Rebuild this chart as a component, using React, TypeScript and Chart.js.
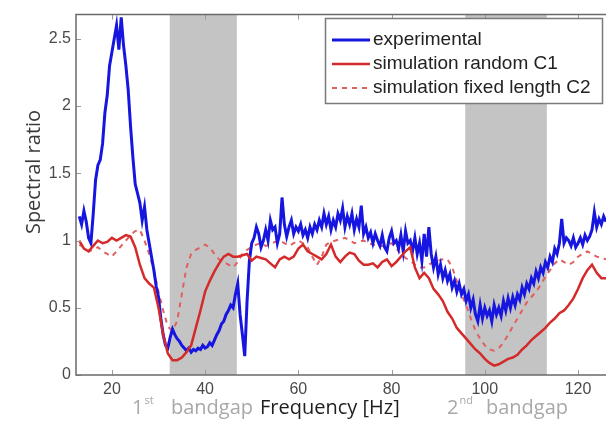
import { useEffect, useRef } from "react";
import { Chart, registerables } from "chart.js";
Chart.register(...registerables);

// ---------- data ----------
const expStartHz = 13;
const expStepHz = 0.5;
const experimental = [
  1.18, 1.12, 1.22, 1.14, 1.02, 0.98, 1.2, 1.45, 1.56, 1.6,
  1.72, 1.95, 2.08, 2.3, 2.4, 2.5, 2.6, 2.42, 2.66, 2.45,
  2.3, 2.12, 1.85, 1.62, 1.42, 1.35, 1.28, 1.15, 1.25, 1.08,
  0.98, 0.88, 0.78, 0.66, 0.58, 0.42, 0.3, 0.22, 0.2, 0.28,
  0.34, 0.3, 0.27, 0.25, 0.22, 0.2, 0.18, 0.2, 0.17, 0.19,
  0.18, 0.2, 0.19, 0.22, 0.2, 0.21, 0.24, 0.22, 0.26, 0.3,
  0.33, 0.38, 0.4, 0.45, 0.48, 0.52, 0.5, 0.6, 0.68, 0.45,
  0.3, 0.14, 0.55, 0.85, 0.98, 1.02, 1.1, 1.05, 0.95, 1.0,
  1.08, 1.0, 1.15, 1.08, 1.1, 0.98, 1.05, 1.32, 1.12, 1.03,
  1.1, 1.15, 1.05, 1.1, 1.07, 1.12, 1.04, 1.08, 1.02, 1.1,
  1.05, 1.12, 1.08, 1.15, 1.1, 1.2, 1.12, 1.18, 1.08, 1.15,
  1.1, 1.2, 1.15, 1.24, 1.1, 1.18, 1.12, 1.2, 1.08, 1.16,
  1.1, 1.26, 1.05, 1.1, 1.02, 1.06, 0.98, 1.05, 1.0, 0.96,
  1.04, 0.95, 0.92, 1.02, 1.07, 0.98, 1.0, 0.94, 1.04, 0.92,
  1.07, 0.98, 1.0, 0.92, 1.02, 0.9, 0.98, 0.85, 1.05, 0.88,
  1.1, 0.9, 0.8, 0.88, 0.75, 0.82, 0.72, 0.78, 0.7, 0.75,
  0.65, 0.7, 0.62, 0.68, 0.6, 0.64, 0.55, 0.6, 0.5, 0.56,
  0.45, 0.4, 0.52, 0.42, 0.5, 0.44, 0.48, 0.4, 0.52, 0.45,
  0.5, 0.44, 0.55, 0.48, 0.57, 0.5, 0.58, 0.52, 0.6, 0.56,
  0.65, 0.6, 0.68, 0.64, 0.72, 0.68, 0.77, 0.72, 0.8, 0.76,
  0.84, 0.8, 0.88, 0.84, 0.94, 0.9, 0.98, 1.16, 0.98, 1.02,
  1.0, 0.96, 1.02, 0.95, 0.98, 1.02, 0.97, 1.04, 1.0, 1.03,
  1.08, 1.21, 1.1, 1.16, 1.12, 1.18, 1.14,
];

const simFreq = [
  13, 14, 15, 16, 17, 18, 19, 20, 21, 22, 23, 24, 25, 26, 27, 28, 29, 30, 31, 32,
  33, 34, 35, 36, 37, 38, 39, 40, 41, 42, 43, 44, 45, 46, 47, 48, 49, 50, 51, 52,
  53, 54, 55, 56, 57, 58, 59, 60, 61, 62, 63, 64, 65, 66, 67, 68, 69, 70, 71, 72,
  73, 74, 75, 76, 77, 78, 79, 80, 81, 82, 83, 84, 85, 86, 87, 88, 89, 90, 91, 92,
  93, 94, 95, 96, 97, 98, 99, 100, 101, 102, 103, 104, 105, 106, 107, 108, 109, 110, 111, 112,
  113, 114, 115, 116, 117, 118, 119, 120, 121, 122, 123, 124, 125, 126,
];

const simRandomC1 = [
  1.0, 0.94, 0.92, 0.96, 1.0, 0.98, 0.99, 1.02, 1.0, 1.02, 1.04, 1.03, 0.95, 0.82, 0.72, 0.68, 0.65, 0.5, 0.3, 0.16,
  0.11, 0.11, 0.13, 0.17, 0.22, 0.35, 0.48, 0.62, 0.7, 0.77, 0.83, 0.88, 0.9, 0.88, 0.88, 0.89, 0.9, 0.85, 0.88, 0.87,
  0.86, 0.83, 0.8, 0.86, 0.88, 0.86, 0.88, 0.94, 0.97, 0.92, 0.9, 0.88, 0.86, 0.9, 0.97, 0.88, 0.84, 0.88, 0.91, 0.9,
  0.85, 0.82, 0.82, 0.83, 0.8, 0.84, 0.86, 0.81, 0.84, 0.88, 0.92, 0.95, 0.8, 0.72, 0.76, 0.72, 0.64, 0.6, 0.55, 0.47,
  0.42, 0.35, 0.31, 0.27, 0.23, 0.19, 0.16, 0.12, 0.09, 0.07, 0.08, 0.1, 0.12, 0.13, 0.15, 0.19, 0.22, 0.26, 0.29, 0.32,
  0.35, 0.39, 0.42, 0.46, 0.48, 0.52, 0.57, 0.64, 0.72, 0.78, 0.82, 0.76, 0.72, 0.72,
];

const simFixedC2 = [
  0.97, 0.95, 0.92, 0.93, 0.95, 0.92, 0.9, 0.88, 0.92, 0.96, 1.0, 1.04, 1.07, 1.08, 1.0, 0.9, 0.78, 0.62, 0.48, 0.36,
  0.33, 0.4, 0.6, 0.8, 0.9, 0.93, 0.95, 0.97, 0.95, 0.9, 0.86, 0.84, 0.82, 0.8, 0.84, 0.9, 0.93, 0.95, 0.97, 0.98,
  0.96, 0.97, 0.99, 1.0, 0.98, 0.96, 0.98, 1.0, 0.98, 0.95, 0.88, 0.82, 0.88, 0.97, 0.99, 1.0, 1.01, 1.02, 1.0, 0.98,
  0.99, 1.0, 0.98, 0.97, 0.96, 0.96, 0.97, 0.98, 0.94, 0.9, 0.87, 0.85, 0.82, 0.8, 0.8, 0.82, 0.84, 0.85, 0.86, 0.86,
  0.8, 0.7, 0.6, 0.52, 0.42, 0.33, 0.27, 0.22, 0.19, 0.18, 0.2, 0.24, 0.3, 0.36, 0.42, 0.48, 0.54, 0.58, 0.62, 0.67,
  0.73, 0.78, 0.83, 0.86, 0.84, 0.82, 0.84, 0.88, 0.9, 0.92, 0.9, 0.88, 0.87, 0.86,
];

const seriesLabels = ["experimental", "simulation random C1", "simulation fixed length C2"];
const xTicks = [20, 40, 60, 80, 100, 120];
const yTicks = [0, 0.5, 1, 1.5, 2, 2.5];
const xMin = 12.3;
const xMax = 126;
const yMin = 0;
const yMax = 2.68;
const bandStart = [32.4, 95.8];
const bandEnd = [46.8, 113.3];
const bandOrdinal = ["1", "2"];
const bandSuffix = ["st", "nd"];
const bandWord = "bandgap";
const xTitle = "Frequency [Hz]";
const yTitle = "Spectral ratio";

// ---------- styles ----------
const BLUE = "#1616e0";
const RED = "#d42a2a";
const RED_DASH = "#e06060";
const TITLE_FONT = "'Open Sans', sans-serif";
const TICK_FONT = "'Liberation Sans', Arial, sans-serif";

const overlayPlugin = {
  id: "overlay",
  beforeDatasetsDraw(chart: any) {
    const { ctx, chartArea: a, scales } = chart;
    const x = scales.x;
    ctx.save();
    ctx.fillStyle = "#c4c4c4";
    bandStart.forEach((s, i) => {
      const x0 = x.getPixelForValue(s);
      const x1 = x.getPixelForValue(bandEnd[i]);
      ctx.fillRect(x0, a.top, x1 - x0, a.bottom - a.top);
    });
    ctx.restore();
  },
  afterDraw(chart: any) {
    const { ctx, chartArea: a, scales } = chart;
    const x = scales.x;
    const y = scales.y;
    ctx.save();
    // inward tick marks
    ctx.strokeStyle = "#9a9a9a";
    ctx.lineWidth = 1;
    ctx.beginPath();
    xTicks.forEach((v) => {
      const px = Math.round(x.getPixelForValue(v)) + 0.5;
      ctx.moveTo(px, a.bottom);
      ctx.lineTo(px, a.bottom - 5);
      ctx.moveTo(px, a.top);
      ctx.lineTo(px, a.top + 5);
    });
    yTicks.forEach((v) => {
      const py = Math.round(y.getPixelForValue(v)) + 0.5;
      ctx.moveTo(a.left, py);
      ctx.lineTo(a.left + 5, py);
    });
    ctx.stroke();
    // box
    ctx.strokeStyle = "#6a6a6a";
    ctx.lineWidth = 1.5;
    ctx.beginPath();
    ctx.moveTo(a.right, a.top);
    ctx.lineTo(a.left, a.top);
    ctx.lineTo(a.left, a.bottom);
    ctx.lineTo(a.right, a.bottom);
    ctx.stroke();

    // legend
    const lx = 325, ly = 18, lw = 277, lh = 85;
    ctx.fillStyle = "#ffffff";
    ctx.fillRect(lx, ly, lw, lh);
    ctx.strokeStyle = "#7a7a7a";
    ctx.lineWidth = 1.5;
    ctx.strokeRect(lx + 0.5, ly + 0.5, lw, lh);
    const rows = [40, 64, 88];
    const ds = chart.data.datasets;
    ds.forEach((d: any, i: number) => {
      const ry = rows[i];
      ctx.beginPath();
      ctx.strokeStyle = d.borderColor;
      ctx.lineWidth = d.borderWidth;
      ctx.setLineDash(d.borderDash || []);
      ctx.moveTo(332, ry);
      ctx.lineTo(370, ry);
      ctx.stroke();
      ctx.setLineDash([]);
      ctx.fillStyle = "#222222";
      ctx.font = `19px ${TICK_FONT}`;
      ctx.textAlign = "left";
      ctx.textBaseline = "middle";
      ctx.fillText(d.label, 373, ry);
    });

    // x title & band labels
    ctx.textBaseline = "alphabetic";
    ctx.textAlign = "left";
    ctx.fillStyle = "#1e1e1e";
    ctx.font = `20px ${TITLE_FONT}`;
    ctx.fillText(xTitle, 260, 414);

    const bandX = [132, 447];
    bandOrdinal.forEach((o, i) => {
      let cx = bandX[i];
      ctx.fillStyle = "#a8a8a8";
      ctx.font = `20px ${TITLE_FONT}`;
      ctx.fillText(o, cx, 414);
      cx += ctx.measureText(o).width + 1;
      ctx.font = `11px ${TITLE_FONT}`;
      ctx.fillText(bandSuffix[i], cx, 404);
      ctx.font = `20px ${TITLE_FONT}`;
      const wEnd = bandX[i] + 121;
      const ww = ctx.measureText(bandWord).width;
      ctx.fillText(bandWord, wEnd - ww, 414);
    });

    // y title
    ctx.save();
    ctx.translate(34, 172);
    ctx.rotate(-Math.PI / 2);
    ctx.fillStyle = "#3a3a3a";
    ctx.font = `20px ${TITLE_FONT}`;
    ctx.textAlign = "center";
    ctx.textBaseline = "middle";
    ctx.fillText(yTitle, 0, 0);
    ctx.restore();

    ctx.restore();
  },
};

export default function App() {
  const ref = useRef<HTMLCanvasElement | null>(null);
  useEffect(() => {
    if (!ref.current) return;
    const expPoints = experimental.map((v, i) => ({ x: expStartHz + i * expStepHz, y: v }));
    const c1Points = simFreq.map((f, i) => ({ x: f, y: simRandomC1[i] }));
    const c2Points = simFreq.map((f, i) => ({ x: f, y: simFixedC2[i] }));
    const chart = new Chart(ref.current, {
      type: "line",
      data: {
        datasets: [
          { label: seriesLabels[0], data: expPoints, borderColor: BLUE, borderWidth: 3, order: 2, pointRadius: 0, tension: 0 },
          { label: seriesLabels[1], data: c1Points, borderColor: RED, borderWidth: 2.5, order: 1, pointRadius: 0, tension: 0 },
          { label: seriesLabels[2], data: c2Points, borderColor: RED_DASH, borderWidth: 2, borderDash: [5, 5], order: 3, pointRadius: 0, tension: 0 },
        ] as any,
      },
      options: {
        animation: false,
        responsive: false,
        maintainAspectRatio: false,
        layout: { padding: { top: 10, right: 0, left: 0, bottom: 0 } },
        plugins: { legend: { display: false }, tooltip: { enabled: false } },
        scales: {
          x: {
            type: "linear",
            min: xMin,
            max: xMax,
            grid: { display: false, drawTicks: false },
            border: { display: false },
            afterBuildTicks: (s: any) => { s.ticks = xTicks.map((v) => ({ value: v })); },
            afterFit: (s: any) => { s.height = 48; },
            ticks: {
              padding: 5,
              color: "#4a4a4a",
              font: { family: TICK_FONT, size: 16 },
              maxRotation: 0,
              autoSkip: false,
              callback: (v: any) => String(v),
            },
          },
          y: {
            type: "linear",
            min: yMin,
            max: yMax,
            grid: { display: false, drawTicks: false },
            border: { display: false },
            afterBuildTicks: (s: any) => { s.ticks = yTicks.map((v) => ({ value: v })); },
            afterFit: (s: any) => { s.width = 76; },
            ticks: {
              padding: 5,
              color: "#4a4a4a",
              font: { family: TICK_FONT, size: 16 },
              autoSkip: false,
              callback: (v: any) => String(v),
            },
          },
        },
      },
      plugins: [overlayPlugin],
    });
    return () => chart.destroy();
  }, []);
  return (
    <div style={{ position: "absolute", left: 0, top: 0, width: 606, height: 423, background: "#fff" }}>
      <canvas ref={ref} width={606} height={423} style={{ display: "block" }} />
    </div>
  );
}
